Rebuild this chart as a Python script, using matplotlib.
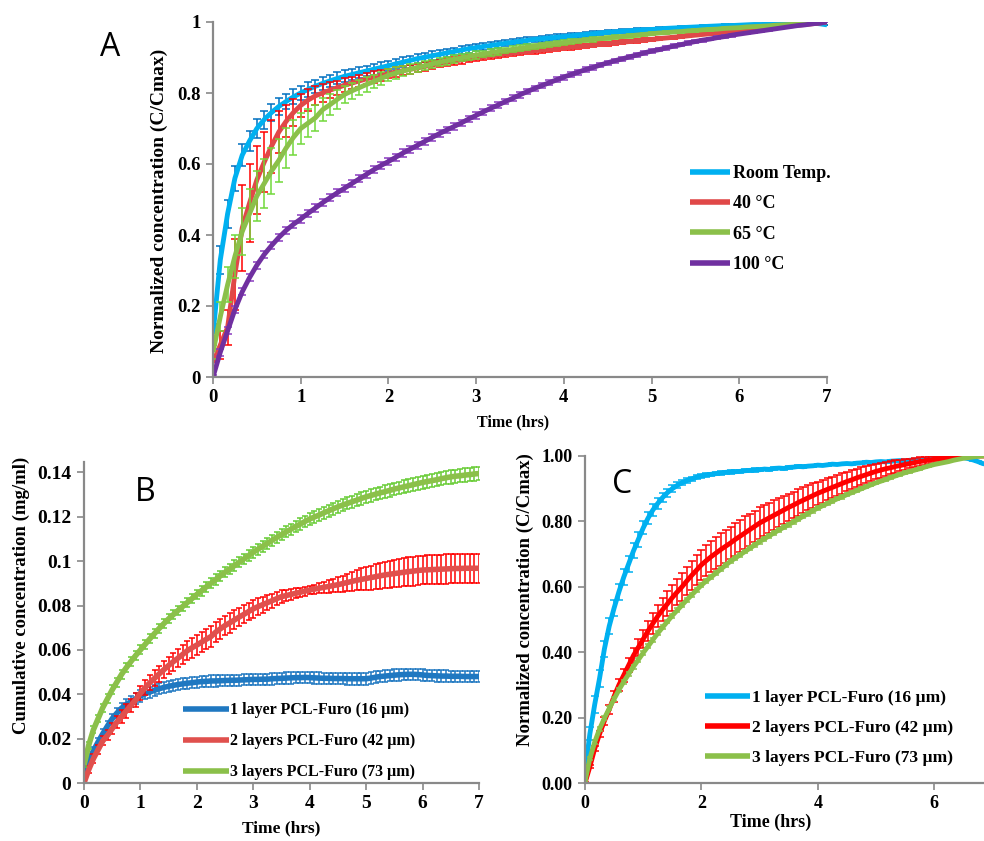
import numpy as np
import matplotlib.pyplot as plt
from matplotlib.ticker import FuncFormatter

# sampling every 5 minutes, 0 .. 7 hrs
minutes = np.arange(0, 425, 5)
hrs = minutes / 60.0

# ---------------- panel A : normalized release at different temperatures
a_room = [0.12, 0.33, 0.46, 0.56, 0.625, 0.665, 0.70, 0.725, 0.745, 0.762, 0.776, 0.789,
          0.80, 0.81, 0.819, 0.827, 0.834, 0.841, 0.847, 0.852, 0.857, 0.862, 0.867, 0.872,
          0.877, 0.882, 0.887, 0.892, 0.897, 0.901, 0.905, 0.909, 0.913, 0.917, 0.921, 0.925,
          0.928, 0.931, 0.934, 0.937, 0.94, 0.943, 0.946, 0.948, 0.951, 0.953, 0.955, 0.957,
          0.959, 0.961, 0.963, 0.965, 0.967, 0.969, 0.971, 0.972, 0.974, 0.975, 0.977, 0.978,
          0.979, 0.98, 0.982, 0.983, 0.984, 0.985, 0.986, 0.987, 0.988, 0.989, 0.99, 0.99,
          0.991, 0.992, 0.993, 0.993, 0.994, 0.995, 0.995, 0.996, 0.996, 0.997, 0.997, 0.995,
          0.992]
a_room_err = [0.03, 0.04, 0.04, 0.035, 0.03, 0.028, 0.026, 0.025, 0.024, 0.023, 0.022, 0.021,
              0.02, 0.02, 0.019, 0.018, 0.018, 0.017, 0.017, 0.016, 0.016, 0.015, 0.015, 0.015,
              0.014, 0.014, 0.014, 0.013, 0.013, 0.013, 0.012, 0.012, 0.012, 0.011, 0.011, 0.011,
              0.01, 0.01, 0.01, 0.01, 0.009, 0.009, 0.009, 0.009, 0.008, 0.008, 0.008, 0.008,
              0.008, 0.007, 0.007, 0.007, 0.007, 0.006, 0.006, 0.006, 0.006, 0.006, 0.005, 0.005,
              0.005, 0.005, 0.005, 0.004, 0.004, 0.004, 0.004, 0.004, 0.003, 0.003, 0.003, 0.003,
              0.003, 0.003, 0.002, 0.002, 0.002, 0.002, 0.002, 0.002, 0.001, 0.001, 0.001, 0.001,
              0.0]
a_40 = [0.04, 0.09, 0.14, 0.29, 0.42, 0.49, 0.555, 0.605, 0.65, 0.69, 0.72, 0.745,
        0.765, 0.78, 0.792, 0.80, 0.808, 0.815, 0.822, 0.828, 0.834, 0.84, 0.845, 0.85,
        0.855, 0.859, 0.863, 0.867, 0.871, 0.875, 0.879, 0.883, 0.887, 0.89, 0.893, 0.896,
        0.899, 0.902, 0.905, 0.907, 0.91, 0.912, 0.915, 0.917, 0.919, 0.921, 0.923, 0.925,
        0.927, 0.929, 0.931, 0.933, 0.935, 0.937, 0.939, 0.941, 0.943, 0.945, 0.947, 0.949,
        0.951, 0.953, 0.955, 0.957, 0.959, 0.961, 0.963, 0.965, 0.967, 0.969, 0.971, 0.973,
        0.975, 0.977, 0.979, 0.981, 0.983, 0.985, 0.987, 0.989, 0.991, 0.993, 0.995, 0.997,
        1.0]
a_40_err = [0.02, 0.04, 0.05, 0.10, 0.12, 0.11, 0.095, 0.085, 0.075, 0.06, 0.045, 0.038,
            0.033, 0.03, 0.027, 0.024, 0.022, 0.02, 0.019, 0.018, 0.017, 0.016, 0.016, 0.015,
            0.014, 0.014, 0.013, 0.013, 0.012, 0.012, 0.012, 0.011, 0.011, 0.011, 0.01, 0.01,
            0.01, 0.01, 0.009, 0.009, 0.009, 0.008, 0.008, 0.008, 0.008, 0.007, 0.007, 0.007,
            0.007, 0.007, 0.006, 0.006, 0.006, 0.006, 0.006, 0.005, 0.005, 0.005, 0.005, 0.005,
            0.005, 0.004, 0.004, 0.004, 0.004, 0.004, 0.003, 0.003, 0.003, 0.003, 0.003, 0.003,
            0.003, 0.002, 0.002, 0.002, 0.002, 0.002, 0.001, 0.001, 0.001, 0.001, 0.001, 0.001,
            0.0]
a_65 = [0.07, 0.17, 0.26, 0.34, 0.41, 0.46, 0.51, 0.545, 0.58, 0.61, 0.645, 0.675,
        0.70, 0.715, 0.73, 0.753, 0.767, 0.782, 0.796, 0.806, 0.815, 0.824, 0.832, 0.841,
        0.85, 0.856, 0.862, 0.867, 0.872, 0.877, 0.882, 0.887, 0.891, 0.895, 0.899, 0.903,
        0.907, 0.91, 0.914, 0.917, 0.92, 0.923, 0.926, 0.929, 0.932, 0.935, 0.937, 0.94,
        0.942, 0.945, 0.947, 0.949, 0.951, 0.953, 0.955, 0.957, 0.959, 0.961, 0.963, 0.965,
        0.967, 0.969, 0.97, 0.972, 0.973, 0.975, 0.976, 0.978, 0.979, 0.98, 0.982, 0.983,
        0.984, 0.986, 0.987, 0.988, 0.989, 0.991, 0.992, 0.993, 0.995, 0.996, 0.997, 0.999,
        1.0]
a_65_err = [0.02, 0.04, 0.05, 0.06, 0.065, 0.07, 0.07, 0.07, 0.065, 0.06, 0.055, 0.05,
            0.045, 0.04, 0.036, 0.032, 0.029, 0.026, 0.024, 0.022, 0.021, 0.02, 0.019, 0.018,
            0.017, 0.016, 0.015, 0.014, 0.013, 0.013, 0.012, 0.012, 0.011, 0.011, 0.01, 0.01,
            0.01, 0.009, 0.009, 0.009, 0.008, 0.008, 0.008, 0.008, 0.007, 0.007, 0.007, 0.007,
            0.006, 0.006, 0.006, 0.006, 0.006, 0.005, 0.005, 0.005, 0.005, 0.005, 0.004, 0.004,
            0.004, 0.004, 0.004, 0.004, 0.003, 0.003, 0.003, 0.003, 0.003, 0.003, 0.003, 0.002,
            0.002, 0.002, 0.002, 0.002, 0.002, 0.002, 0.001, 0.001, 0.001, 0.001, 0.001, 0.001,
            0.0]
a_100 = [0.0, 0.07, 0.13, 0.19, 0.24, 0.28, 0.315, 0.345, 0.37, 0.393, 0.413, 0.43,
         0.445, 0.461, 0.476, 0.491, 0.505, 0.519, 0.532, 0.545, 0.558, 0.571, 0.584, 0.596,
         0.607, 0.619, 0.631, 0.642, 0.653, 0.664, 0.675, 0.686, 0.696, 0.706, 0.716, 0.727,
         0.737, 0.747, 0.757, 0.766, 0.776, 0.785, 0.795, 0.804, 0.813, 0.821, 0.829, 0.837,
         0.845, 0.852, 0.859, 0.866, 0.872, 0.879, 0.885, 0.891, 0.896, 0.902, 0.907, 0.913,
         0.918, 0.922, 0.927, 0.932, 0.936, 0.941, 0.945, 0.949, 0.952, 0.956, 0.959, 0.963,
         0.966, 0.969, 0.972, 0.975, 0.978, 0.981, 0.984, 0.987, 0.99, 0.992, 0.995, 0.997,
         1.0]
a_100_err = [0.005, 0.01, 0.01, 0.01, 0.01, 0.01, 0.01, 0.01, 0.01, 0.01, 0.01, 0.01,
             0.01, 0.01, 0.01, 0.01, 0.01, 0.01, 0.01, 0.01, 0.01, 0.01, 0.01, 0.01,
             0.01, 0.01, 0.01, 0.01, 0.01, 0.01, 0.009, 0.009, 0.009, 0.009, 0.009, 0.009,
             0.009, 0.009, 0.008, 0.008, 0.008, 0.008, 0.008, 0.008, 0.008, 0.008, 0.007, 0.007,
             0.007, 0.007, 0.007, 0.007, 0.007, 0.006, 0.006, 0.006, 0.006, 0.006, 0.006, 0.006,
             0.005, 0.005, 0.005, 0.005, 0.005, 0.005, 0.004, 0.004, 0.004, 0.004, 0.004, 0.004,
             0.003, 0.003, 0.003, 0.003, 0.003, 0.002, 0.002, 0.002, 0.002, 0.001, 0.001, 0.001,
             0.0]

# ---------------- panel B : cumulative concentration (mg/ml)
b_1 = [0.004, 0.010, 0.0145, 0.0185, 0.0222, 0.0257, 0.029, 0.0315, 0.0338, 0.0353, 0.0367, 0.038,
       0.0392, 0.0402, 0.041, 0.0418, 0.0425, 0.0431, 0.0436, 0.044, 0.0444, 0.0447, 0.045, 0.0452,
       0.0455, 0.0457, 0.0458, 0.046, 0.046, 0.0461, 0.0462, 0.0463, 0.0463, 0.0464, 0.0465, 0.0466,
       0.0467, 0.0467, 0.0468, 0.0468, 0.047, 0.0471, 0.0472, 0.0473, 0.0474, 0.0475, 0.0475, 0.0476,
       0.0475, 0.0474, 0.0473, 0.0472, 0.0472, 0.0471, 0.0471, 0.0471, 0.047, 0.047, 0.047, 0.047,
       0.047, 0.0473, 0.0477, 0.048, 0.0482, 0.0484, 0.0486, 0.0488, 0.0489, 0.049, 0.049, 0.0489,
       0.0487, 0.0485, 0.0484, 0.0483, 0.0482, 0.0482, 0.0481, 0.0481, 0.0481, 0.048, 0.048, 0.048,
       0.048]
b_1_err = [0.001, 0.0013, 0.0016, 0.0018, 0.002, 0.0021, 0.0022, 0.0023, 0.0024, 0.0024, 0.0025, 0.0025,
           0.0025, 0.0025, 0.0025, 0.0025, 0.0025, 0.0025, 0.0025, 0.0025, 0.0025, 0.0025, 0.0025, 0.0025,
           0.0025, 0.0025, 0.0025, 0.0025, 0.0025, 0.0025, 0.0025, 0.0025, 0.0025, 0.0025, 0.0025, 0.0025,
           0.0025, 0.0025, 0.0025, 0.0025, 0.0026, 0.0026, 0.0026, 0.0026, 0.0026, 0.0026, 0.0026, 0.0026,
           0.0026, 0.0026, 0.0026, 0.0026, 0.0026, 0.0026, 0.0026, 0.0026, 0.0026, 0.0026, 0.0026, 0.0026,
           0.0026, 0.0026, 0.0026, 0.0026, 0.0026, 0.0026, 0.0026, 0.0026, 0.0026, 0.0026, 0.0026, 0.0026,
           0.0026, 0.0026, 0.0026, 0.0026, 0.0026, 0.0026, 0.0026, 0.0026, 0.0026, 0.0026, 0.0026, 0.0026,
           0.0026]
b_2 = [0.0, 0.006, 0.011, 0.015, 0.019, 0.0215, 0.0245, 0.0275, 0.030, 0.0325, 0.035, 0.0375,
       0.0405, 0.043, 0.0452, 0.0472, 0.0492, 0.0511, 0.053, 0.0547, 0.0563, 0.058, 0.0597, 0.061,
       0.0622, 0.0635, 0.0648, 0.066, 0.068, 0.0695, 0.071, 0.0722, 0.0735, 0.0748, 0.076, 0.0773,
       0.0785, 0.0795, 0.0804, 0.0813, 0.0822, 0.0831, 0.084, 0.0845, 0.085, 0.0855, 0.086, 0.0865,
       0.087, 0.0874, 0.0878, 0.0882, 0.0886, 0.089, 0.0894, 0.0899, 0.0904, 0.0909, 0.0914, 0.0918,
       0.0922, 0.0926, 0.093, 0.0934, 0.0938, 0.0941, 0.0944, 0.0947, 0.095, 0.0953, 0.0955, 0.0958,
       0.096, 0.0961, 0.0962, 0.0963, 0.0964, 0.0965, 0.0966, 0.0967, 0.0967, 0.0968, 0.0968, 0.0968,
       0.0968]
b_2_err = [0.001, 0.0015, 0.002, 0.002, 0.002, 0.0022, 0.0024, 0.0026, 0.0028, 0.003, 0.003, 0.0032,
           0.0033, 0.0034, 0.0035, 0.0036, 0.0037, 0.0038, 0.004, 0.0041, 0.0042, 0.0043, 0.0044, 0.0045,
           0.0045, 0.0045, 0.0046, 0.0046, 0.0046, 0.0045, 0.0045, 0.0044, 0.0043, 0.0042, 0.0041, 0.004,
           0.004, 0.0038, 0.0036, 0.0034, 0.0032, 0.003, 0.0028, 0.0026, 0.0024, 0.0022, 0.002, 0.002,
           0.002, 0.002, 0.0022, 0.0025, 0.0028, 0.003, 0.0033, 0.0036, 0.004, 0.0043, 0.0046, 0.005,
           0.0052, 0.0054, 0.0056, 0.0058, 0.006, 0.0061, 0.0062, 0.0063, 0.0064, 0.0065, 0.0065, 0.0065,
           0.0065, 0.0066, 0.0066, 0.0066, 0.0066, 0.0066, 0.0066, 0.0066, 0.0066, 0.0066, 0.0066, 0.0066,
           0.0066]
b_3 = [0.008, 0.017, 0.024, 0.029, 0.034, 0.038, 0.042, 0.0455, 0.049, 0.052, 0.0548, 0.0575,
       0.060, 0.0625, 0.065, 0.0674, 0.0697, 0.0719, 0.074, 0.0759, 0.0778, 0.0796, 0.0814, 0.0832,
       0.085, 0.0867, 0.0884, 0.09, 0.0917, 0.0934, 0.095, 0.0965, 0.098, 0.0995, 0.101, 0.1025,
       0.104, 0.1054, 0.1067, 0.108, 0.1094, 0.1107, 0.112, 0.1132, 0.1144, 0.1156, 0.1167, 0.1179,
       0.119, 0.1199, 0.1208, 0.1218, 0.1227, 0.1236, 0.1245, 0.1253, 0.126, 0.1268, 0.1275, 0.1283,
       0.129, 0.1296, 0.1302, 0.1308, 0.1313, 0.1319, 0.1325, 0.133, 0.1335, 0.134, 0.1345, 0.135,
       0.1355, 0.1359, 0.1363, 0.1367, 0.1372, 0.1376, 0.138, 0.1383, 0.1385, 0.1388, 0.139, 0.1393,
       0.1395]
b_3_err = [0.001, 0.0015, 0.0016, 0.0017, 0.0018, 0.0019, 0.002, 0.002, 0.002, 0.002, 0.002, 0.002,
           0.002, 0.002, 0.002, 0.002, 0.0021, 0.0021, 0.0021, 0.0021, 0.0021, 0.0021, 0.0022, 0.0022,
           0.0022, 0.0022, 0.0022, 0.0022, 0.0023, 0.0023, 0.0023, 0.0023, 0.0023, 0.0023, 0.0024, 0.0024,
           0.0024, 0.0024, 0.0024, 0.0024, 0.0025, 0.0025, 0.0025, 0.0025, 0.0025, 0.0025, 0.0026, 0.0026,
           0.0026, 0.0026, 0.0026, 0.0026, 0.0027, 0.0027, 0.0027, 0.0027, 0.0027, 0.0027, 0.0028, 0.0028,
           0.0028, 0.0028, 0.0028, 0.0028, 0.0029, 0.0029, 0.0029, 0.0029, 0.0029, 0.0029, 0.003, 0.003,
           0.003, 0.003, 0.003, 0.003, 0.003, 0.003, 0.003, 0.003, 0.003, 0.003, 0.003, 0.003,
           0.003]

# ---------------- panel C : normalized release per number of layers
c_1 = [0.03, 0.15, 0.24, 0.32, 0.41, 0.48, 0.535, 0.585, 0.63, 0.67, 0.71, 0.745,
       0.78, 0.81, 0.835, 0.855, 0.873, 0.888, 0.90, 0.91, 0.918, 0.925, 0.93, 0.935,
       0.939, 0.942, 0.944, 0.946, 0.948, 0.95, 0.951, 0.952, 0.953, 0.955, 0.956, 0.957,
       0.958, 0.96, 0.959, 0.962, 0.963, 0.962, 0.965, 0.966, 0.968, 0.967, 0.969, 0.97,
       0.972, 0.971, 0.973, 0.975, 0.974, 0.976, 0.977, 0.976, 0.978, 0.979, 0.981, 0.98,
       0.982, 0.983, 0.982, 0.984, 0.985, 0.986, 0.985, 0.987, 0.988, 0.987, 0.989, 0.99,
       0.993, 0.992, 0.994, 0.995, 0.994, 0.996, 0.995, 0.992, 0.988, 0.983, 0.977, 0.974,
       0.972]
c_1_err = [0.005, 0.02, 0.025, 0.025, 0.025, 0.025, 0.025, 0.025, 0.025, 0.024, 0.023, 0.022,
           0.02, 0.019, 0.018, 0.016, 0.014, 0.012, 0.01, 0.009, 0.008, 0.007, 0.006, 0.006,
           0.005, 0.005, 0.005, 0.005, 0.005, 0.005, 0.005, 0.005, 0.005, 0.005, 0.005, 0.005,
           0.004, 0.004, 0.004, 0.004, 0.004, 0.004, 0.004, 0.004, 0.004, 0.004, 0.004, 0.004,
           0.003, 0.003, 0.003, 0.003, 0.003, 0.003, 0.003, 0.003, 0.003, 0.003, 0.003, 0.003,
           0.003, 0.003, 0.003, 0.003, 0.003, 0.003, 0.002, 0.002, 0.002, 0.002, 0.002, 0.002,
           0.002, 0.002, 0.002, 0.002, 0.002, 0.002, 0.002, 0.002, 0.002, 0.002, 0.002, 0.002,
           0.002]
c_2 = [0.0, 0.05, 0.105, 0.15, 0.19, 0.225, 0.265, 0.30, 0.33, 0.36, 0.39, 0.415,
       0.44, 0.465, 0.488, 0.51, 0.53, 0.548, 0.567, 0.584, 0.60, 0.618, 0.635, 0.651,
       0.667, 0.68, 0.692, 0.703, 0.714, 0.724, 0.734, 0.745, 0.755, 0.765, 0.775, 0.785,
       0.795, 0.803, 0.811, 0.819, 0.827, 0.835, 0.843, 0.85, 0.858, 0.865, 0.872, 0.879,
       0.886, 0.892, 0.898, 0.904, 0.91, 0.916, 0.922, 0.927, 0.933, 0.938, 0.943, 0.948,
       0.953, 0.957, 0.961, 0.964, 0.968, 0.971, 0.974, 0.977, 0.98, 0.983, 0.985, 0.988,
       0.99, 0.992, 0.994, 0.995, 0.997, 0.998, 0.999, 1.0, 1.0, 1.0, 1.0, 1.0,
       1.0]
c_2_err = [0.002, 0.005, 0.008, 0.01, 0.012, 0.014, 0.016, 0.018, 0.02, 0.022, 0.024, 0.026,
           0.028, 0.03, 0.032, 0.034, 0.036, 0.038, 0.04, 0.041, 0.042, 0.043, 0.044, 0.045,
           0.046, 0.047, 0.048, 0.049, 0.05, 0.05, 0.05, 0.05, 0.05, 0.05, 0.049, 0.048,
           0.048, 0.047, 0.046, 0.045, 0.044, 0.043, 0.042, 0.041, 0.04, 0.039, 0.038, 0.037,
           0.036, 0.035, 0.034, 0.033, 0.032, 0.031, 0.03, 0.029, 0.028, 0.027, 0.026, 0.025,
           0.024, 0.023, 0.022, 0.02, 0.019, 0.018, 0.016, 0.015, 0.014, 0.013, 0.012, 0.011,
           0.01, 0.009, 0.008, 0.007, 0.006, 0.005, 0.004, 0.003, 0.002, 0.001, 0.0, 0.0,
           0.0]
c_3 = [0.005, 0.075, 0.125, 0.165, 0.198, 0.228, 0.257, 0.285, 0.31, 0.333, 0.356, 0.377,
       0.398, 0.418, 0.438, 0.458, 0.476, 0.494, 0.512, 0.528, 0.544, 0.56, 0.575, 0.59,
       0.605, 0.618, 0.63, 0.642, 0.654, 0.666, 0.678, 0.688, 0.698, 0.708, 0.718, 0.728,
       0.738, 0.747, 0.756, 0.765, 0.774, 0.782, 0.79, 0.799, 0.807, 0.816, 0.824, 0.833,
       0.841, 0.848, 0.855, 0.862, 0.869, 0.875, 0.882, 0.888, 0.894, 0.9, 0.906, 0.912,
       0.918, 0.923, 0.928, 0.934, 0.939, 0.944, 0.949, 0.953, 0.957, 0.961, 0.966, 0.97,
       0.974, 0.977, 0.98, 0.983, 0.987, 0.99, 0.993, 0.995, 0.997, 0.999, 1.0, 1.0,
       1.0]
c_3_err = [0.002, 0.006, 0.006, 0.006, 0.006, 0.006, 0.006, 0.006, 0.006, 0.006, 0.006, 0.006,
           0.006, 0.006, 0.006, 0.006, 0.006, 0.006, 0.006, 0.006, 0.006, 0.006, 0.006, 0.006,
           0.006, 0.006, 0.006, 0.006, 0.006, 0.006, 0.006, 0.006, 0.006, 0.006, 0.006, 0.006,
           0.006, 0.006, 0.006, 0.006, 0.006, 0.006, 0.006, 0.006, 0.006, 0.006, 0.006, 0.006,
           0.005, 0.005, 0.005, 0.005, 0.005, 0.005, 0.005, 0.005, 0.005, 0.005, 0.005, 0.005,
           0.004, 0.004, 0.004, 0.004, 0.004, 0.004, 0.004, 0.004, 0.004, 0.004, 0.004, 0.004,
           0.002, 0.002, 0.002, 0.002, 0.002, 0.002, 0.002, 0.002, 0.002, 0.002, 0.002, 0.002,
           0.0]

labels_a = ['Room Temp.', '40 °C', '65 °C', '100 °C']
labels_bc = ['1 layer PCL-Furo (16 µm)', '2 layers PCL-Furo (42 µm)', '3 layers PCL-Furo (73 µm)']

serif = 'Liberation Serif'
plt.rcParams['font.family'] = serif
plt.rcParams['font.weight'] = 'bold'
axis_grey = '#898989'

fig = plt.figure(figsize=(9.84, 8.41), dpi=100)


def style_axes(ax, tick_size):
    for s in ['top', 'right']:
        ax.spines[s].set_visible(False)
    for s in ['left', 'bottom']:
        ax.spines[s].set_color(axis_grey)
        ax.spines[s].set_linewidth(1.6)
    ax.tick_params(direction='out', length=5, width=1.2, color=axis_grey,
                   labelsize=tick_size, pad=4)
    for lab in ax.get_xticklabels() + ax.get_yticklabels():
        lab.set_fontweight('bold')


def series(ax, y, err, line_col, err_col, label, lw=3.5, cap=3):
    ax.errorbar(hrs, y, yerr=err, fmt='none', ecolor=err_col, elinewidth=1.1,
                capsize=cap, capthick=1.1)
    ax.plot(hrs, y, color=line_col, lw=lw, label=label, solid_capstyle='butt')


def legend(ax, x, y, size, hl, ls, pad):
    leg = ax.legend(loc='upper left', bbox_to_anchor=(x, y), frameon=False,
                    prop={'family': serif, 'weight': 'bold', 'size': size},
                    handlelength=hl, handletextpad=pad, labelspacing=ls,
                    borderpad=0, borderaxespad=0)
    for h in leg.get_lines():
        h.set_linewidth(4)
    return leg


def labels(ax, xlab, ylab, xsize, ysize, xpos, ypos):
    ax.set_xlabel(xlab, fontsize=xsize, fontweight='bold')
    ax.set_ylabel(ylab, fontsize=ysize, fontweight='bold')
    ax.xaxis.set_label_coords(*xpos)
    ax.yaxis.set_label_coords(*ypos)


# ---------- A
axA = fig.add_axes([213 / 984, 1 - 377 / 841, 614 / 984, 355 / 841])
series(axA, a_room, a_room_err, '#00B0F0', '#0070C0', labels_a[0])
series(axA, a_40, a_40_err, '#E04848', '#FF0000', labels_a[1])
series(axA, a_65, a_65_err, '#8BC04A', '#72D83A', labels_a[2])
series(axA, a_100, a_100_err, '#7030A0', '#8A3CC0', labels_a[3])
axA.set_xlim(0, 7)
axA.set_ylim(0, 1)
axA.set_xticks(range(8))
axA.set_yticks([0, 0.2, 0.4, 0.6, 0.8, 1.0])
axA.yaxis.set_major_formatter(FuncFormatter(lambda v, p: f'{v:g}'))
style_axes(axA, 13.5)
labels(axA, 'Time (hrs)', 'Normalized concentration (C/Cmax)', 11.5, 14,
       (0.489, -0.105), (-0.073, 0.496))
legend(axA, 0.777, 0.597, 13, 2.2, 0.74, 0.2)
fig.text(110 / 984, 1 - 47 / 841, 'A', family='Open Sans', fontweight='normal',
         fontsize=23, ha='center', va='center')

# ---------- B
axB = fig.add_axes([84 / 984, 1 - 783 / 841, 395 / 984, 321 / 841])
series(axB, b_1, b_1_err, '#1F78C1', '#1F78C1', labels_bc[0], lw=4, cap=2.5)
series(axB, b_2, b_2_err, '#E0504D', '#FF0000', labels_bc[1], lw=4, cap=2.5)
series(axB, b_3, b_3_err, '#8BC04A', '#66CC33', labels_bc[2], lw=4, cap=2.5)
axB.set_xlim(0, 7)
axB.set_ylim(0, 0.1447)
axB.set_xticks(range(8))
axB.set_yticks([0, 0.02, 0.04, 0.06, 0.08, 0.1, 0.12, 0.14])
axB.yaxis.set_major_formatter(FuncFormatter(lambda v, p: f'{v:g}'))
style_axes(axB, 14)
labels(axB, 'Time (hrs)', 'Cumulative concentration (mg/ml)', 12.5, 13.5,
       (0.50, -0.116), (-0.137, 0.585))
legend(axB, 0.25, 0.252, 11.5, 2.9, 0.95, 0.05)
fig.text(145 / 984, 1 - 493 / 841, 'B', family='Open Sans', fontweight='normal',
         fontsize=23, ha='center', va='center')

# ---------- C
axC = fig.add_axes([585 / 984, 1 - 783 / 841, 399 / 984, 327 / 841])
series(axC, c_1, c_1_err, '#00B0F0', '#00B0F0', labels_bc[0], lw=3.5, cap=3)
series(axC, c_2, c_2_err, '#FF0000', '#FF0000', labels_bc[1], lw=3.5, cap=3)
series(axC, c_3, c_3_err, '#8BC04A', '#8BC04A', labels_bc[2], lw=3.5, cap=2.5)
axC.set_xlim(0, 399 / 58.2)
axC.set_ylim(0, 1)
axC.set_xticks([0, 2, 4, 6])
axC.set_yticks([0, 0.2, 0.4, 0.6, 0.8, 1.0])
axC.yaxis.set_major_formatter(FuncFormatter(lambda v, p: f'{v:.2f}'))
style_axes(axC, 13)
labels(axC, 'Time (hrs)', 'Normalized concentration (C/Cmax)', 13, 13.5,
       (0.466, -0.093), (-0.128, 0.56))
legend(axC, 0.30, 0.285, 12.5, 2.6, 0.81, 0.1)
fig.text(622 / 984, 1 - 485 / 841, 'C', family='Open Sans', fontweight='normal',
         fontsize=23, ha='center', va='center')

fig.savefig('out.png', dpi=100)
